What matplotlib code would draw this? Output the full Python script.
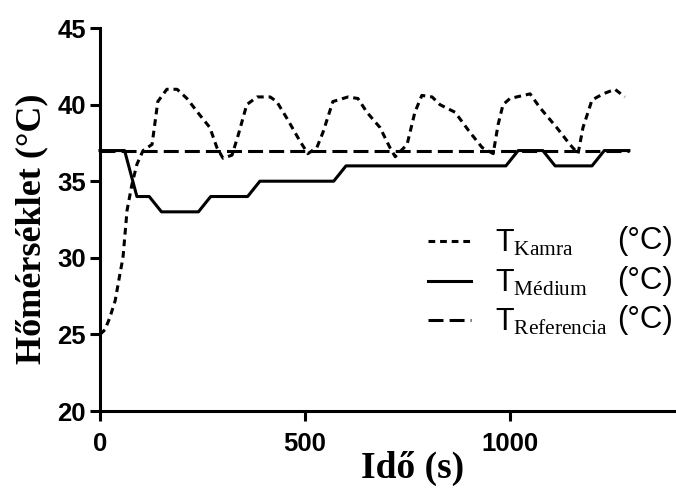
import matplotlib
matplotlib.use("Agg")
import matplotlib.pyplot as plt
from matplotlib.transforms import IdentityTransform

# adatok (leolvasva)
t_kamra = [0, 12, 24, 37, 49, 56, 66, 78, 90, 105, 127, 141, 163, 188, 212, 244, 268, 285,
           300, 322, 337, 358, 383, 415, 431, 456, 488, 507, 529, 544, 568, 605, 629, 651,
           683, 707, 720, 749, 768, 785, 810, 829, 866, 902, 932, 959, 971, 983, 1000, 1049,
           1073, 1114, 1146, 1166, 1178, 1200, 1227, 1256, 1280]
kamra = [25.0, 25.3, 26.1, 27.2, 29.0, 30.0, 33.1, 34.8, 36.1, 37.0, 37.4, 40.2, 41.0, 41.0,
         40.4, 39.3, 38.5, 37.2, 36.5, 36.7, 38.0, 40.0, 40.5, 40.5, 40.2, 39.1, 37.6, 36.8,
         37.2, 38.2, 40.2, 40.5, 40.4, 39.5, 38.5, 37.2, 36.6, 37.4, 39.5, 40.6, 40.5, 40.0,
         39.5, 38.2, 37.2, 36.8, 38.7, 40.0, 40.4, 40.7, 39.8, 38.5, 37.4, 36.8, 38.5, 40.3,
         40.7, 41.0, 40.5]

t_medium = list(range(0, 1291, 30))
medium = [37, 37, 37, 34, 34, 33, 33, 33, 33, 34, 34, 34, 34, 35, 35, 35, 35, 35, 35, 35,
          36, 36, 36, 36, 36, 36, 36, 36, 36, 36, 36, 36, 36, 36, 37, 37, 37, 36, 36, 36,
          36, 37, 37, 37]

t_ref = [0, 1290]
referencia = [37, 37]

labels = [r'T$_{\mathrm{Kamra}}$', r'T$_{\mathrm{Médium}}$', r'T$_{\mathrm{Referencia}}$']

plt.rcParams['font.family'] = ['Liberation Sans', 'DejaVu Sans']
plt.rcParams['mathtext.fontset'] = 'custom'
plt.rcParams['mathtext.rm'] = 'Liberation Serif'
plt.rcParams['mathtext.it'] = 'Liberation Serif:italic'

fig = plt.figure(figsize=(6.76, 4.92), dpi=100)
ax = fig.add_axes([100/676, 1-411/492, 574/676, 383/492])

lw = 2.2
l1, = ax.plot(t_kamra, kamra, color='black', lw=lw, linestyle=(0, (2.2, 1.6)),
              dash_capstyle='butt', clip_on=False)
l2, = ax.plot(t_medium, medium, color='black', lw=lw, clip_on=False)
l3, = ax.plot(t_ref, referencia, color='black', lw=lw, linestyle=(0, (4.9, 2)),
              dash_capstyle='butt', clip_on=False)

ax.set_xlim(0, 1400)
ax.set_ylim(20, 45)
ax.set_xticks([0, 500, 1000])
ax.set_yticks([20, 25, 30, 35, 40, 45])

for s in ['top', 'right']:
    ax.spines[s].set_visible(False)
for s in ['left', 'bottom']:
    ax.spines[s].set_linewidth(lw)

ax.tick_params(axis='both', length=7, width=lw, labelsize=18.5)
ax.tick_params(axis='y', pad=3)
ax.tick_params(axis='x', pad=8)
for lab in ax.get_xticklabels() + ax.get_yticklabels():
    lab.set_fontweight('bold')

ax.set_xlabel('Idő (s)', fontsize=27, fontweight='bold', family='Liberation Serif')
ax.set_ylabel('Hőmérséklet (°C)', fontsize=26, fontweight='bold', family='Liberation Serif')
ax.xaxis.set_label_coords(0.544, -0.105)
ax.yaxis.set_label_coords(-0.09, 0.475)

leg = ax.legend([l1, l2, l3], labels, loc='center left',
                bbox_to_anchor=(428/676, 1-283/492), bbox_transform=fig.transFigure,
                frameon=False, fontsize=22, handlelength=1.4, handletextpad=0.8,
                labelspacing=0.3, borderpad=0, borderaxespad=0)

# (°C) a jelmagyarazat mellé
fig.canvas.draw()
for txt in leg.get_texts():
    bb = txt.get_window_extent()
    fig.text(max(bb.x1 + 1, 617), bb.y1 + 2, '(°C)', transform=IdentityTransform(),
             ha='left', va='top', fontsize=22.5)

fig.savefig('out.png', dpi=100)
